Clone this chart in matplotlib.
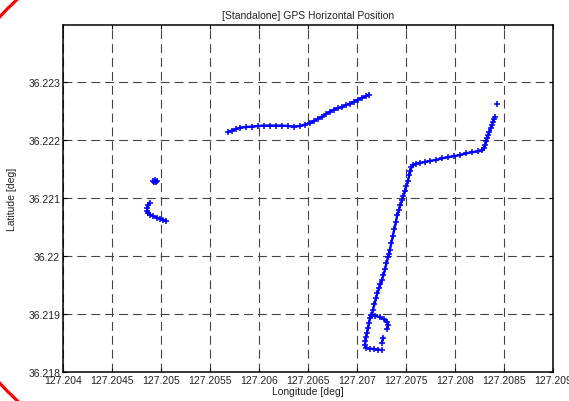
import matplotlib
matplotlib.use("Agg")
import matplotlib.pyplot as plt
from matplotlib.patches import Ellipse

plt.rcParams["font.family"] = ["Liberation Sans", "DejaVu Sans"]

# --- data (longitude / latitude, deg) ---
blob_lon = [127.20492, 127.20494, 127.20496, 127.20493, 127.20495]
blob_lat = [36.22130, 36.22131, 36.22130, 36.22128, 36.22127]

left_lon = [127.204883, 127.204872, 127.204862, 127.204857, 127.204867, 127.204888,
            127.204918, 127.204959, 127.204990, 127.205020, 127.205051]
left_lat = [36.220919, 36.220885, 36.220834, 36.220782, 36.220748, 36.220714,
            36.220688, 36.220662, 36.220645, 36.220623, 36.220602]

mid_lon = [127.205684, 127.205724, 127.205765, 127.205806, 127.205867, 127.205929,
           127.205990, 127.206051, 127.206112, 127.206173, 127.206235, 127.206296,
           127.206357, 127.206418, 127.206469, 127.206520, 127.206561, 127.206602,
           127.206643, 127.206684, 127.206724, 127.206765, 127.206806, 127.206847,
           127.206888, 127.206929, 127.206969, 127.207010, 127.207051, 127.207092,
           127.207122]
mid_lat = [36.222137, 36.222162, 36.222188, 36.222214, 36.222222, 36.222231,
           36.222240, 36.222248, 36.222248, 36.222248, 36.222248, 36.222240,
           36.222231, 36.222240, 36.222265, 36.222291, 36.222325, 36.222368,
           36.222402, 36.222445, 36.222488, 36.222522, 36.222548, 36.222565,
           36.222600, 36.222625, 36.222660, 36.222694, 36.222728, 36.222754,
           36.222780]

hook_lon = [127.207252, 127.207214, 127.207173, 127.207133, 127.207097, 127.207082,
            127.207087, 127.207094, 127.207102, 127.207112, 127.207122, 127.207133,
            127.207143, 127.207184, 127.207235, 127.207276, 127.207311, 127.207321,
            127.207306]
hook_lat = [36.218382, 36.218391, 36.218399, 36.218408, 36.218425, 36.218468,
            36.218537, 36.218605, 36.218674, 36.218759, 36.218845, 36.218931,
            36.218982, 36.218974, 36.218948, 36.218914, 36.218862, 36.218811,
            36.218751]

dots_lon = [127.207268, 127.207255]
dots_lat = [36.218597, 36.218511]

main_lon = [127.207150, 127.207163, 127.207179, 127.207194, 127.207209, 127.207224,
            127.207240, 127.207255, 127.207270, 127.207286, 127.207301, 127.207316,
            127.207327, 127.207337, 127.207352, 127.207367, 127.207383, 127.207398,
            127.207413, 127.207429, 127.207444, 127.207459, 127.207474, 127.207490,
            127.207505, 127.207520, 127.207536, 127.207546, 127.207556, 127.207571,
            127.207602, 127.207643, 127.207694, 127.207745, 127.207806, 127.207867,
            127.207929, 127.207990, 127.208051, 127.208112, 127.208173, 127.208235,
            127.208276, 127.208296, 127.208309, 127.208321, 127.208332, 127.208342,
            127.208352, 127.208364, 127.208378, 127.208388, 127.208398, 127.208408]
main_lat = [36.218982, 36.219068, 36.219171, 36.219274, 36.219359, 36.219445,
            36.219514, 36.219582, 36.219668, 36.219771, 36.219874, 36.219977,
            36.220045, 36.220114, 36.220234, 36.220354, 36.220474, 36.220594,
            36.220714, 36.220799, 36.220885, 36.220962, 36.221039, 36.221125,
            36.221211, 36.221297, 36.221399, 36.221468, 36.221528, 36.221567,
            36.221591, 36.221605, 36.221622, 36.221639, 36.221657, 36.221682,
            36.221703, 36.221720, 36.221742, 36.221768, 36.221789, 36.221802,
            36.221819, 36.221862, 36.221914, 36.221974, 36.222034, 36.222085,
            36.222145, 36.222200, 36.222265, 36.222317, 36.222359, 36.222399]

top_lon = [127.208429]
top_lat = [36.222617]

x_ticks = [127.204, 127.2045, 127.205, 127.2055, 127.206, 127.2065,
           127.207, 127.2075, 127.208, 127.2085, 127.209]
x_labels = ["127.204", "127.2045", "127.205", "127.2055", "127.206", "127.2065",
            "127.207", "127.2075", "127.208", "127.2085", "127.209"]
y_ticks = [36.218, 36.219, 36.22, 36.221, 36.222, 36.223]
y_labels = ["36.218", "36.219", "36.22", "36.221", "36.222", "36.223"]

fig = plt.figure(figsize=(5.69, 4.02), dpi=100)
ax = fig.add_axes([0.1107, 0.0714, 0.861, 0.864])

segments = [(blob_lon, blob_lat), (left_lon, left_lat), (mid_lon, mid_lat),
            (hook_lon, hook_lat), (dots_lon, dots_lat), (main_lon, main_lat),
            (top_lon, top_lat)]
for lon, lat in segments:
    ax.plot(lon, lat, color="#0000ff", marker="+", markersize=4,
            markeredgewidth=1.1, linewidth=1.7, zorder=3)

ax.set_xlim(127.204, 127.209)
ax.set_ylim(36.218, 36.22398)
ax.set_xticks(x_ticks)
ax.set_xticklabels(x_labels)
ax.set_yticks(y_ticks)
ax.set_yticklabels(y_labels)
ax.tick_params(direction="in", length=3, width=0.8, top=True, right=True,
               labelsize=7.5, labelcolor="#222222", pad=2)
ax.grid(True, color="#444444", linestyle=(0, (8, 4.5)), linewidth=0.8)
for s in ax.spines.values():
    s.set_linewidth(1.1)

ax.set_title("[Standalone] GPS Horizontal Position", fontsize=7.5, pad=5,
             color="#222222")
ax.set_xlabel("Longitude [deg]", fontsize=7.5, labelpad=1, color="#222222")
ax.set_ylabel("Latitude [deg]", fontsize=7.5, labelpad=8, color="#222222")

# red annotation ellipse partly visible at the left edge
fig.add_artist(Ellipse((0.6749, 0.5), 1.624, 1.642, transform=fig.transFigure,
                       fill=False, edgecolor="red", linewidth=2.3))

fig.savefig("out.png", dpi=100)
